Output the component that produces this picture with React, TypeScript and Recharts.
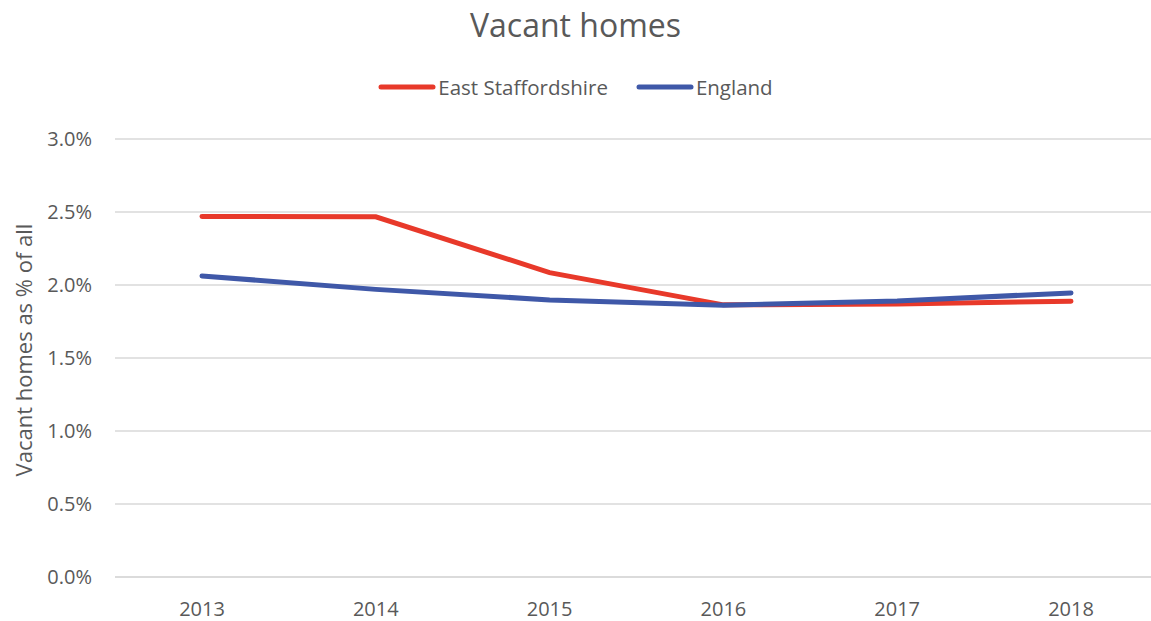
import { LineChart, Line, XAxis, YAxis, CartesianGrid, Legend } from 'recharts'

const years = ['2013', '2014', '2015', '2016', '2017', '2018']
const eastStaffordshire = [2.47, 2.467, 2.085, 1.864, 1.87, 1.889]
const england = [2.062, 1.97, 1.898, 1.862, 1.89, 1.946]
const yTicks = [0, 0.5, 1, 1.5, 2, 2.5, 3]

const seriesNames = { east: 'East Staffordshire', england: 'England' }
const colors = { east: '#E8392A', england: '#3F58A8' }

const data = years.map((year, i) => ({
  year,
  east: eastStaffordshire[i],
  england: england[i],
}))

const font = '"Open Sans", sans-serif'
const textColor = '#595959'

function renderLegend(props: any) {
  const { payload } = props
  return (
    <div style={{ display: 'flex', justifyContent: 'center', fontFamily: font, fontSize: 20.5, color: textColor, height: 26 }}>
      {payload.map((entry: any) => (
        <div key={entry.value} style={{ display: 'flex', alignItems: 'center', margin: '0 14px' }}>
          <svg width={58} height={10} style={{ marginRight: 2 }}>
            <line x1={3} y1={5} x2={55} y2={5} stroke={entry.color} strokeWidth={5} strokeLinecap="round" />
          </svg>
          <span>{entry.value}</span>
        </div>
      ))}
    </div>
  )
}

export default function App() {
  return (
    <div style={{ width: 1151, height: 621, overflow: 'hidden', position: 'relative', background: '#fff' }}>
      <style>{'body{margin:0}'}</style>
      <div
        style={{
          position: 'absolute',
          top: 3,
          width: 1151,
          textAlign: 'center',
          fontFamily: font,
          fontSize: 32,
          color: textColor,
        }}
      >
        Vacant homes
      </div>
      <LineChart width={1151} height={621} data={data} margin={{ top: 113, right: 0, bottom: 14, left: 55 }}>
        <CartesianGrid vertical={false} stroke="#d9d9d9" strokeWidth={1.5} />
        <XAxis
          dataKey="year"
          padding={{ left: 87, right: 80 }}
          axisLine={{ stroke: '#d9d9d9', strokeWidth: 1.5 }}
          tickLine={false}
          tickSize={0}
          tickMargin={25}
          tick={{ fill: textColor, fontSize: 20, fontFamily: font }}
        />
        <YAxis
          width={60}
          domain={[0, 3]}
          ticks={yTicks}
          tickFormatter={(v: number) => `${v.toFixed(1)}%`}
          axisLine={false}
          tickLine={false}
          tickSize={0}
          tickMargin={23}
          tick={{ fill: textColor, fontSize: 20, fontFamily: font }}
          label={{
            value: 'Vacant homes as % of all',
            angle: -90,
            position: 'insideLeft',
            dx: -36,
            dy: -8,
            style: { textAnchor: 'middle', fill: textColor, fontSize: 22, fontFamily: font },
          }}
        />
        <Legend verticalAlign="top" content={renderLegend} wrapperStyle={{ top: 74, left: 0, width: 1151 }} />
        <Line
          type="linear"
          dataKey="east"
          name={seriesNames.east}
          stroke={colors.east}
          strokeWidth={5}
          strokeLinecap="round"
          dot={false}
          activeDot={false}
          isAnimationActive={false}
        />
        <Line
          type="linear"
          dataKey="england"
          name={seriesNames.england}
          stroke={colors.england}
          strokeWidth={5}
          strokeLinecap="round"
          dot={false}
          activeDot={false}
          isAnimationActive={false}
        />
      </LineChart>
    </div>
  )
}
